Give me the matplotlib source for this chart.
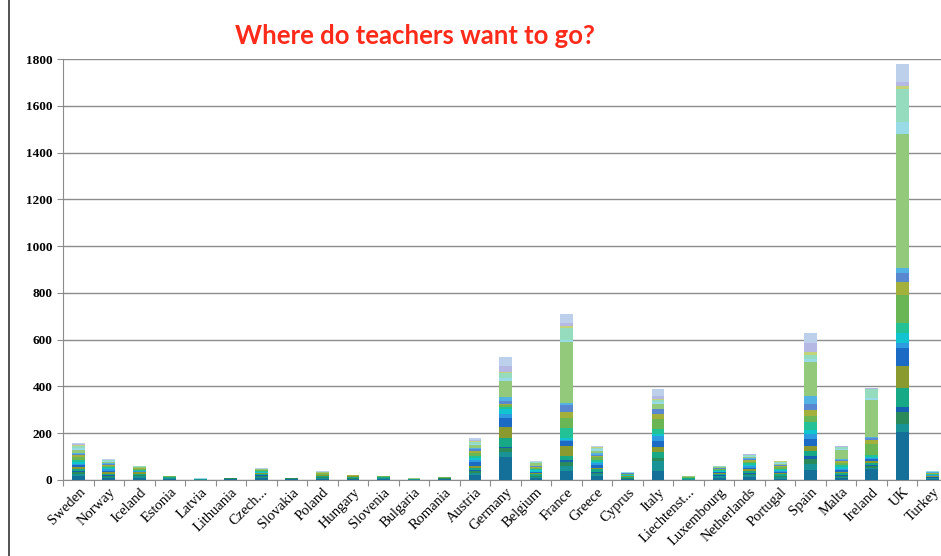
import matplotlib
matplotlib.use("Agg")
import matplotlib.pyplot as plt
import numpy as np

countries = ["Sweden", "Norway", "Iceland", "Estonia", "Latvia", "Lithuania", "Czech...",
             "Slovakia", "Poland", "Hungary", "Slovenia", "Bulgaria", "Romania", "Austria",
             "Germany", "Belgium", "France", "Greece", "Cyprus", "Italy", "Liechtenst...",
             "Luxembourg", "Netherlands", "Portugal", "Spain", "Malta", "Ireland", "UK", "Turkey"]

# stacked layers, bottom to top (one value per destination country)
s01 = [15, 8, 10, 4, 2, 4, 8, 3, 5, 3, 4, 1, 3, 22, 100, 8, 40, 15, 3, 40, 2, 10, 12, 6, 43, 8, 47, 205, 4]
s02 = [12, 6, 6, 3, 2, 2, 6, 2, 3, 2, 3, 2, 3, 10, 21, 6, 18, 10, 3, 43, 2, 5, 8, 6, 26, 6, 6, 35, 3]
s03 = [8, 4, 5, 3, 0, 2, 4, 2, 4, 4, 0, 0, 2, 6, 14, 3, 20, 6, 2, 11, 2, 4, 6, 4, 21, 4, 8, 52, 2]
s04 = [4, 3, 2, 0, 0, 0, 2, 0, 0, 0, 2, 0, 0, 4, 6, 2, 8, 4, 1, 0, 0, 2, 3, 2, 14, 4, 4, 21, 2]
s05 = [10, 6, 4, 2, 0, 0, 5, 0, 3, 2, 2, 1, 1, 8, 39, 6, 18, 10, 3, 26, 2, 5, 8, 6, 21, 6, 8, 82, 3]
s06 = [8, 8, 6, 2, 0, 1, 3, 2, 5, 4, 2, 0, 0, 10, 47, 6, 42, 8, 3, 21, 2, 4, 8, 6, 21, 8, 8, 93, 2]
s07 = [6, 5, 3, 0, 0, 0, 2, 0, 0, 0, 0, 0, 0, 16, 39, 3, 21, 10, 2, 26, 0, 3, 8, 4, 28, 6, 8, 78, 3]
s08 = [5, 5, 2, 0, 0, 0, 2, 0, 0, 0, 0, 0, 0, 10, 18, 2, 6, 8, 2, 20, 0, 2, 6, 4, 21, 6, 4, 21, 2]
s09 = [8, 5, 2, 0, 2, 0, 4, 0, 0, 0, 0, 0, 0, 8, 21, 5, 6, 8, 2, 10, 0, 3, 6, 5, 18, 8, 6, 43, 2]
s10 = [10, 4, 3, 0, 0, 0, 3, 0, 3, 0, 0, 0, 0, 8, 8, 6, 43, 8, 2, 21, 0, 3, 6, 6, 34, 8, 6, 43, 2]
s11 = [12, 6, 4, 2, 0, 1, 2, 1, 4, 3, 2, 2, 2, 12, 6, 6, 43, 10, 2, 43, 3, 4, 8, 6, 26, 10, 50, 117, 2]
s12 = [8, 5, 4, 0, 0, 0, 1, 0, 3, 2, 0, 0, 0, 10, 4, 4, 24, 6, 2, 21, 0, 3, 6, 4, 26, 8, 14, 57, 2]
s13 = [5, 4, 1, 0, 0, 0, 1, 0, 0, 0, 0, 0, 0, 8, 14, 2, 33, 6, 1, 21, 0, 2, 4, 3, 24, 4, 10, 40, 2]
s14 = [5, 4, 1, 0, 0, 0, 1, 0, 0, 0, 0, 0, 0, 6, 17, 2, 6, 6, 1, 0, 0, 2, 4, 3, 38, 4, 6, 21, 2]
s15 = [11, 6, 3, 1, 0, 0, 2, 0, 3, 2, 2, 2, 1, 10, 68, 10, 264, 10, 2, 21, 3, 3, 6, 5, 143, 40, 157, 571, 2]
s16 = [8, 3, 1, 0, 2, 0, 2, 0, 0, 0, 0, 1, 0, 6, 15, 3, 8, 6, 2, 9, 0, 2, 4, 4, 14, 4, 10, 50, 2]
s17 = [10, 3, 1, 0, 0, 0, 1, 0, 2, 0, 0, 0, 0, 8, 20, 3, 50, 6, 1, 10, 0, 2, 4, 5, 18, 6, 38, 143, 0]
s18 = [3, 1, 0, 0, 0, 0, 0, 0, 0, 0, 0, 0, 0, 4, 5, 1, 7, 2, 0, 2, 0, 0, 1, 1, 10, 2, 0, 11, 0]
s19 = [4, 1, 0, 0, 0, 0, 0, 0, 0, 0, 0, 0, 0, 6, 24, 1, 14, 4, 0, 14, 0, 0, 2, 1, 40, 3, 2, 17, 0]
s20 = [6, 1, 0, 0, 0, 0, 1, 0, 3, 0, 1, 1, 0, 8, 40, 2, 39, 2, 1, 28, 0, 1, 3, 2, 44, 2, 0, 79, 2]

layers = [s01, s02, s03, s04, s05, s06, s07, s08, s09, s10,
          s11, s12, s13, s14, s15, s16, s17, s18, s19, s20]
colors = ["#157099", "#1a9396", "#2a8a5a", "#1560b0", "#17a886", "#8a9a2e", "#1b6ac4",
          "#2e9ae0", "#12c4d0", "#22c296", "#6bb654", "#a4b03c", "#5a88d0", "#52b2e4",
          "#92c97a", "#98dbe6", "#95dcbe", "#c4d37a", "#b4b8e2", "#bcd0ec"]

fig = plt.figure(figsize=(9.41, 5.56), dpi=100)
ax = fig.add_axes([63 / 941, 76 / 556, 885 / 941, 421 / 556])

x = np.arange(len(countries))
bottom = np.zeros(len(countries))
for vals, c in zip(layers, colors):
    ax.bar(x, vals, bottom=bottom, width=0.42, color=c, zorder=3)
    bottom += np.array(vals)

ax.set_ylim(0, 1800)
ax.set_xlim(-0.5, len(countries) - 0.5)
ax.set_yticks(range(0, 1801, 200))
ax.yaxis.grid(True, color="#8c8c8c", linewidth=1.0, zorder=0)
ax.set_axisbelow(True)

for s in ["top", "right"]:
    ax.spines[s].set_visible(False)
ax.spines["left"].set_color("#8c8c8c")
ax.spines["bottom"].set_color("#8c8c8c")

ax.set_xticks(np.arange(len(countries) + 1) - 0.5, minor=False)
ax.set_xticklabels([])
ax.tick_params(axis="x", length=4, color="#8c8c8c")
ax.set_xticks(x, minor=True)
ax.set_xticklabels(countries, minor=True, rotation=45, ha="right", rotation_mode="anchor",
                   fontsize=10.5, family="Liberation Serif")
ax.tick_params(axis="x", which="minor", length=0, pad=4)
ax.tick_params(axis="y", length=4, color="#8c8c8c", labelsize=9.5)
for lab in ax.get_yticklabels():
    lab.set_family("Liberation Serif")
    lab.set_fontweight("bold")

fig.text(415 / 941, 1 - 36 / 556, "Where do teachers want to go?", color="#ff2a1a",
         fontsize=18.5, fontweight="bold", family="Lato", ha="center", va="center")

fig.add_artist(plt.Line2D([9 / 941, 9 / 941], [0, 1], color="#333333", linewidth=1.2))

fig.savefig("out.png", dpi=100)
